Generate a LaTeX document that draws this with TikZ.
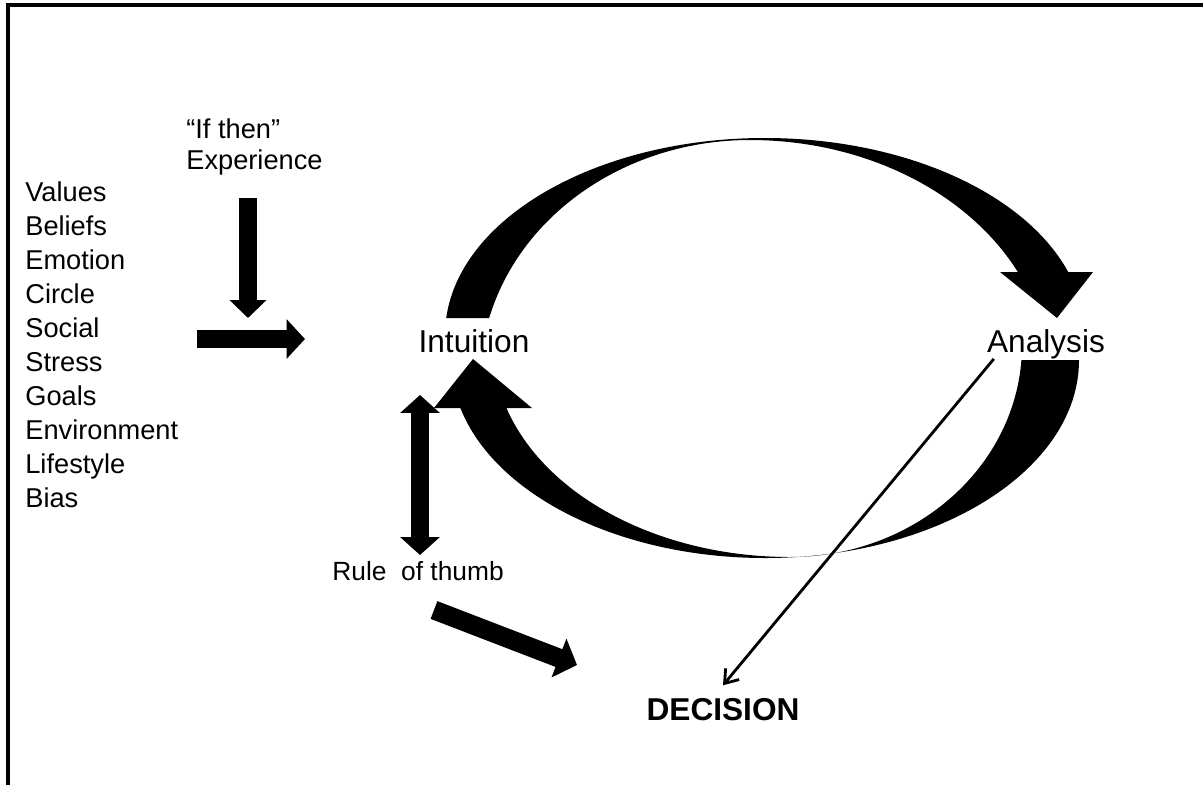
\documentclass[tikz,border=0pt]{standalone}
\usepackage{fontspec}
\setmainfont{Liberation Sans}
\usetikzlibrary{arrows.meta,calc}

\begin{document}
\begin{tikzpicture}[x=0.02cm,y=-0.02cm,
  txt/.style={inner sep=0pt,anchor=base west,font=\fontsize{15.5}{18}\selectfont},
  big/.style={inner sep=0pt,anchor=base,font=\fontsize{18}{21}\selectfont},
  bigarrow/.style={line width=10.8pt,-{Triangle[length=10.5pt,width=22pt]}},
  thinarrow/.style={line width=1.6pt,-{Straight Barb[length=7pt,width=10pt]}}]
\useasboundingbox (0,0) rectangle (1203,785);
% frame
\draw[line width=2pt] (8,785) -- (8,5) -- (1203,5);
% factors on the left
\foreach \w [count=\i from 0] in {Values,Beliefs,Emotion,Circle,Social,Stress,Goals,Environment,Lifestyle,Bias}
  \node[txt] (\w) at (25,201+34*\i) {\w};
\node[txt] (ifthen) at (186,138) {“If then”};
\node[txt] (experience) at (186,169) {Experience};
\node[big] (intuition) at (474,352) {Intuition};
\node[big] (analysis) at (1046,352) {Analysis};
\node[txt,font=\fontsize{15}{18}\selectfont] (rule) at (332,580) {Rule\ \ of thumb};
\node[big,font=\fontsize{18}{21}\selectfont\bfseries] (decision) at (723,720) {DECISION};
% intuition to analysis, over the top
\fill (765,335) ++(184.95:320 and 197) arc[start angle=184.95,end angle=341.35,x radius=320,y radius=197]
  -- (1093,272) -- (1057,318) -- (1000,272)
  -- ($(750,380)+(333.26:300 and 240)$) arc[start angle=333.26,end angle=270,x radius=300,y radius=240]
  arc[start angle=270,end angle=194.97,x radius=270,y radius=240] -- cycle;
% analysis back to intuition, under the bottom
\fill (765,360) ++(0:314 and 198) arc[start angle=0,end angle=165.97,x radius=314,y radius=198]
  -- (434,408) -- (473,359) -- (532,408)
  -- ($(790,345)+(162.71:297 and 212)$) arc[start angle=162.71,end angle=90,x radius=297,y radius=212]
  arc[start angle=90,end angle=4.06,x radius=232,y radius=212] -- cycle;
% block arrows
\coordinate (downtop) at (248,198);
\coordinate (downtip) at (248,318);
\coordinate (righttail) at (197,339);
\coordinate (righttip) at (305,339);
\coordinate (ruletop) at (420,395);
\coordinate (rulebottom) at (420,555);
\coordinate (diagtail) at (434,610);
\coordinate (diagtip) at (577,665);
\draw[bigarrow,-{Triangle[length=10.2pt,width=20.4pt]}] (downtop) -- (downtip);
\draw[bigarrow] (righttail) -- (righttip);
\draw[bigarrow,{Triangle[length=10.2pt,width=22pt]}-{Triangle[length=10.2pt,width=22pt]}] (ruletop) -- (rulebottom);
\draw[bigarrow,-{Triangle[length=11pt,width=23pt]}] (diagtail) -- (diagtip);
% analysis to decision
\draw[thinarrow] ([xshift=4pt]analysis.south west) -- ([yshift=7pt]decision.north);
\end{tikzpicture}
\end{document}
